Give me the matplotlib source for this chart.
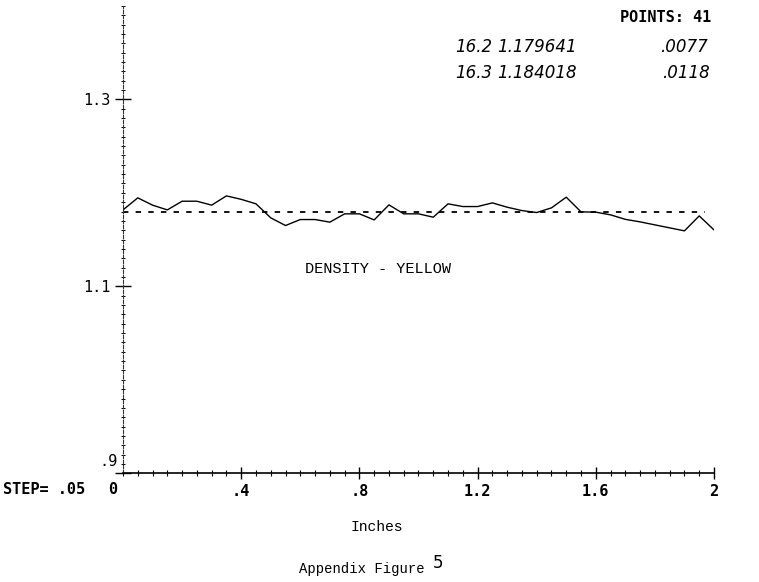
import numpy as np
import matplotlib
matplotlib.use('Agg')
import matplotlib.pyplot as plt
from matplotlib.ticker import MultipleLocator, FixedLocator

# density readings, 41 points at .05 inch steps
inches = [i * 0.05 for i in range(41)]
density = [1.1817, 1.1946, 1.1868, 1.1817, 1.1910, 1.1910, 1.1868, 1.1967, 1.1930, 1.1882,
           1.1732, 1.1650, 1.1714, 1.1714, 1.1686, 1.1775, 1.1775, 1.1710, 1.1871, 1.1775,
           1.1775, 1.1739, 1.1882, 1.1853, 1.1853, 1.1892, 1.1846, 1.1810, 1.1789, 1.1839,
           1.1953, 1.1796, 1.1793, 1.1764, 1.1716, 1.1689, 1.1657, 1.1625, 1.1593, 1.1753,
           1.1603]
mean_density = 1.179641

x_ticks = [0.4, 0.8, 1.2, 1.6, 2.0]
x_labels = ['.4', '.8', '1.2', '1.6', '2']
y_ticks = [0.9, 1.1, 1.3]
y_labels = ['', '1.1', '1.3']

W, H = 759, 582
fig = plt.figure(figsize=(W / 100, H / 100), dpi=100)
fig.patch.set_facecolor('white')

def px(x, y):
    return x / W, 1 - y / H

ax = fig.add_axes([123 / W, (H - 473.3) / H, 591 / W, 467.5 / H])
ax.set_xlim(0, 2)
ax.set_ylim(0.9, 1.4)

ax.plot(inches, density, color='black', lw=1.0)
ax.plot([0, 1.97], [mean_density, mean_density], color='black', lw=1.3, ls=(0, (3, 4)))

for s in ['top', 'right']:
    ax.spines[s].set_visible(False)
ax.spines['bottom'].set_linewidth(1.2)
ax.spines['left'].set_linewidth(0.8)
ax.spines['left'].set_linestyle((0, (3, 1.5)))
ax.spines['left'].set_color('#333333')

mono_b = {'family': 'DejaVu Sans Mono', 'weight': 'bold', 'size': 11}
mono = {'family': 'DejaVu Sans Mono', 'size': 11}

ax.xaxis.set_major_locator(FixedLocator(x_ticks))
ax.set_xticklabels(x_labels, fontdict=mono_b)
ax.xaxis.set_minor_locator(MultipleLocator(0.05))
ax.yaxis.set_major_locator(FixedLocator(y_ticks))
ax.set_yticklabels(y_labels, fontdict=mono)
ax.yaxis.set_minor_locator(MultipleLocator(0.01))

ax.tick_params(axis='x', which='major', direction='inout', length=9, width=1, pad=3)
ax.tick_params(axis='x', which='minor', direction='inout', length=5, width=0.8)
ax.tick_params(axis='y', which='major', direction='inout', length=12, width=1, pad=3)
ax.tick_params(axis='y', which='minor', direction='inout', length=3, width=0.7)

# text around the plot
fig.text(*px(118, 462), '.9', ha='right', va='center', **mono)
fig.text(*px(3, 490), 'STEP= .05', ha='left', va='center', **mono_b)
fig.text(*px(113, 490), '0', ha='center', va='center', **mono_b)
fig.text(*px(666, 17), 'POINTS: 41', ha='center', va='center', **mono_b)

hand = {'family': 'DejaVu Sans', 'style': 'italic', 'size': 12, 'weight': 'light'}
fig.text(*px(455, 47), '16.2', ha='left', va='center', **hand)
fig.text(*px(497, 47), '1.179641', ha='left', va='center', **hand)
fig.text(*px(708, 47), '.0077', ha='right', va='center', **hand)
fig.text(*px(455, 73), '16.3', ha='left', va='center', **hand)
fig.text(*px(497, 73), '1.184018', ha='left', va='center', **hand)
fig.text(*px(710, 73), '.0118', ha='right', va='center', **hand)

courier = {'family': 'Liberation Mono', 'size': 11}
fig.text(*px(378, 269), 'DENSITY - YELLOW', ha='center', va='center', **courier)
fig.text(*px(377, 527), 'Inches', ha='center', va='center', family='Liberation Mono', size=10.5)
fig.text(*px(362, 569), 'Appendix Figure', ha='center', va='center', family='Liberation Mono', size=10)
fig.text(*px(438, 563), '5', ha='center', va='center', family='DejaVu Sans', size=12)

fig.savefig('out.png', dpi=100, facecolor='white')
